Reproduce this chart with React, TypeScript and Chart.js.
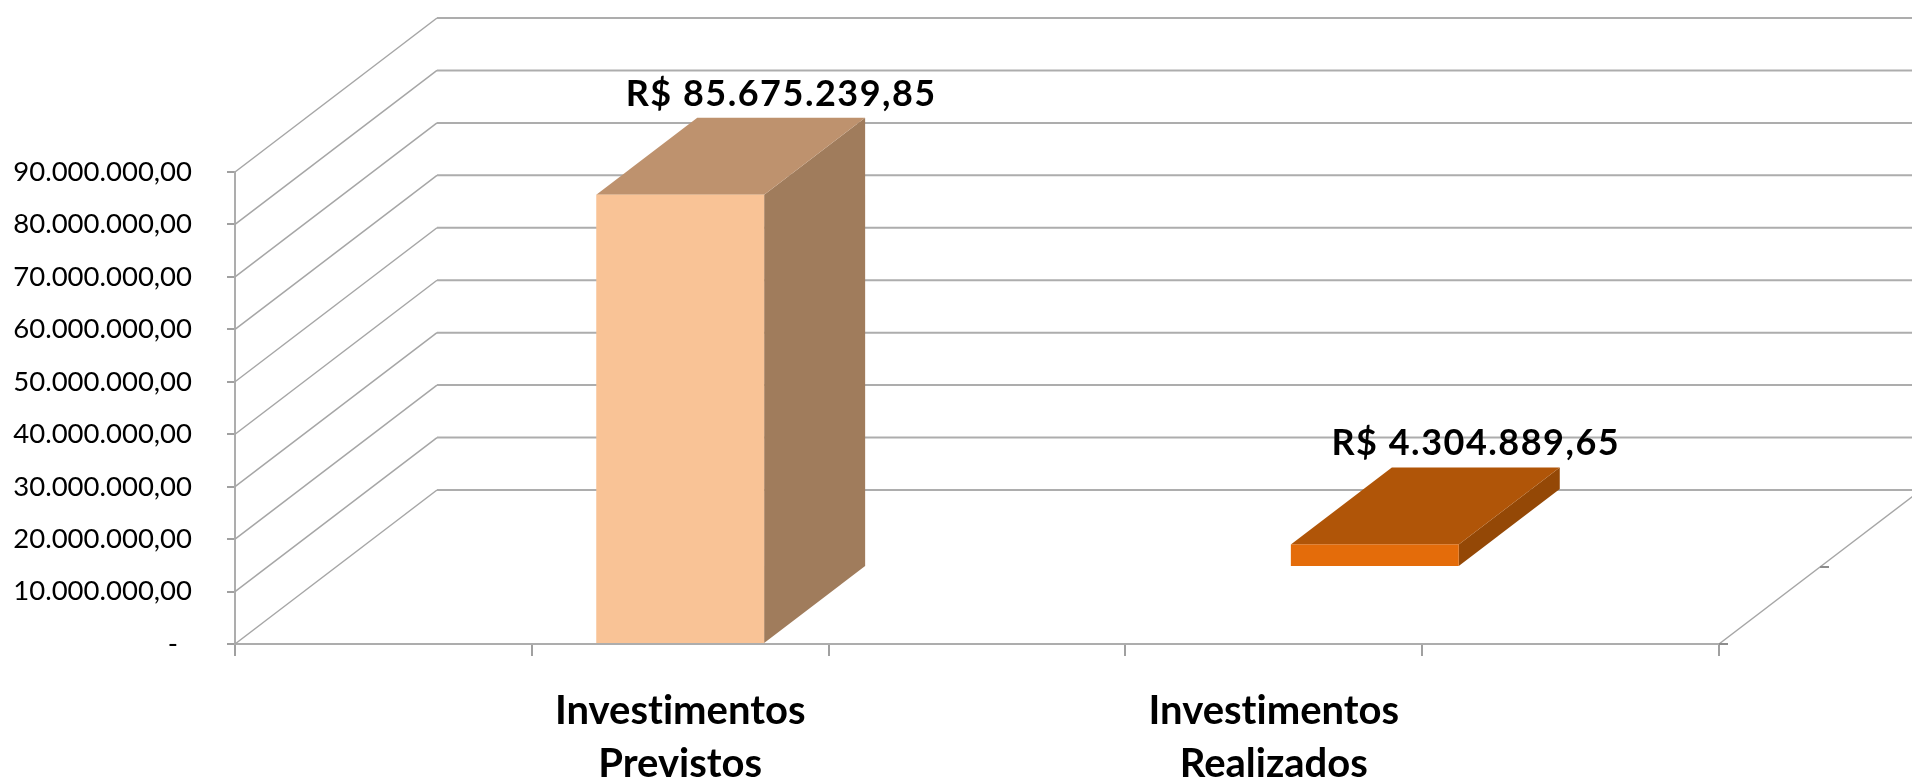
import React, { useEffect, useRef } from 'react';
import { Chart, registerables } from 'chart.js';

Chart.register(...registerables);

// ---- data ----
const categories: (string | string[])[] = ['', ['Investimentos', 'Previstos'], '', ['Investimentos', 'Realizados'], ''];
const previstos: (number | null)[] = [null, 85675239.85, null, null, null];
const realizados: (number | null)[] = [null, null, null, 4304889.65, null];
const yTickValues = [0, 10000000, 20000000, 30000000, 40000000, 50000000, 60000000, 70000000, 80000000, 90000000];
const yTickLabels = ['-  ', '10.000.000,00', '20.000.000,00', '30.000.000,00', '40.000.000,00', '50.000.000,00', '60.000.000,00', '70.000.000,00', '80.000.000,00', '90.000.000,00'];

// ---- style ----
const DEPTH_X = 202;
const DEPTH_Y = -154;
const GRID = '#ADADAD';
const DIAG = '#A6A6A6';
const FONT = 'Lato, "Open Sans", sans-serif';

const seriesColors = [
  { front: '#F9C396', top: '#BE926E', side: '#A07C5C' },
  { front: '#E46C0A', top: '#B05508', side: '#944806' },
];

function brl(v: number): string {
  const [i, d] = v.toFixed(2).split('.');
  return 'R$ ' + i.replace(/\B(?=(\d{3})+(?!\d))/g, '.') + ',' + d;
}

const threeD = {
  id: 'threeD',
  beforeDraw(chart: any) {
    const ctx = chart.ctx;
    try { ctx.textRendering = 'optimizeSpeed'; } catch (e) {}
    try { ctx.fontVariantLigatures = 'none'; } catch (e) {}
  },
  beforeDatasetsDraw(chart: any) {
    const { ctx, chartArea } = chart;
    const { left, right, bottom } = chartArea;
    const ys = chart.scales.y;
    ctx.save();
    ctx.lineCap = 'butt';
    for (const v of yTickValues) {
      const y = ys.getPixelForValue(v);
      // side wall diagonal
      ctx.strokeStyle = DIAG;
      ctx.lineWidth = 1.5;
      ctx.beginPath();
      ctx.moveTo(left, y);
      ctx.lineTo(left + DEPTH_X, y + DEPTH_Y);
      ctx.stroke();
      // back wall gridline
      ctx.strokeStyle = GRID;
      ctx.lineWidth = 2;
      ctx.beginPath();
      ctx.moveTo(left + DEPTH_X, y + DEPTH_Y);
      ctx.lineTo(right + DEPTH_X, y + DEPTH_Y);
      ctx.stroke();
    }
    // floor right edge
    ctx.strokeStyle = DIAG;
    ctx.lineWidth = 1.5;
    ctx.beginPath();
    ctx.moveTo(right, bottom);
    ctx.lineTo(right + DEPTH_X, bottom + DEPTH_Y);
    ctx.stroke();
    // depth axis ticks
    ctx.strokeStyle = '#8C8C8C';
    ctx.lineWidth = 2;
    for (const z of [0, 0.5]) {
      const x0 = right + DEPTH_X * z;
      const y0 = bottom + DEPTH_Y * z;
      ctx.beginPath();
      ctx.moveTo(x0, y0);
      ctx.lineTo(x0 + 9, y0);
      ctx.stroke();
    }
    ctx.restore();
  },
  afterDatasetsDraw(chart: any) {
    const { ctx } = chart;
    const n = chart.data.datasets.length;
    ctx.save();
    for (let i = n - 1; i >= 0; i--) {
      const ds = chart.data.datasets[i];
      const meta = chart.getDatasetMeta(i);
      const col = seriesColors[i];
      const z0 = i / n;
      const z1 = (i + 1) / n;
      const ox0 = DEPTH_X * z0, oy0 = DEPTH_Y * z0;
      const ox1 = DEPTH_X * z1, oy1 = DEPTH_Y * z1;
      meta.data.forEach((el: any, j: number) => {
        const val = ds.data[j];
        if (val == null) return;
        const xl = el.x - el.width / 2;
        const xr = el.x + el.width / 2;
        const yt = el.y;
        const yb = el.base;
        // side face
        ctx.fillStyle = col.side;
        ctx.beginPath();
        ctx.moveTo(xr + ox0, yt + oy0);
        ctx.lineTo(xr + ox1, yt + oy1);
        ctx.lineTo(xr + ox1, yb + oy1);
        ctx.lineTo(xr + ox0, yb + oy0);
        ctx.closePath();
        ctx.fill();
        // top face
        ctx.fillStyle = col.top;
        ctx.beginPath();
        ctx.moveTo(xl + ox0, yt + oy0);
        ctx.lineTo(xr + ox0, yt + oy0);
        ctx.lineTo(xr + ox1, yt + oy1);
        ctx.lineTo(xl + ox1, yt + oy1);
        ctx.closePath();
        ctx.fill();
        // front face
        ctx.fillStyle = col.front;
        ctx.fillRect(xl + ox0, yt + oy0, xr - xl, yb - yt);
        // value label
        ctx.fillStyle = '#000';
        ctx.font = 'bold 36px ' + FONT;
        try { ctx.letterSpacing = '1.5px'; } catch (e) {}
        ctx.textAlign = 'center';
        ctx.textBaseline = 'alphabetic';
        ctx.fillText(brl(val), el.x + ox1, yt + oy1 - 12);
        try { ctx.letterSpacing = '0px'; } catch (e) {}
      });
    }
    ctx.restore();
  },
};

export default function App() {
  const ref = useRef<HTMLCanvasElement | null>(null);
  useEffect(() => {
    let chart: Chart | null = null;
    let dead = false;
    const make = () => {
      if (dead || !ref.current) return;
      chart = new Chart(ref.current, {
        type: 'bar',
        data: {
          labels: categories as any,
          datasets: [
            { label: 'Investimentos Previstos', data: previstos, backgroundColor: 'rgba(0,0,0,0)', borderWidth: 0 },
            { label: 'Investimentos Realizados', data: realizados, backgroundColor: 'rgba(0,0,0,0)', borderWidth: 0 },
          ],
        },
        options: {
          responsive: false,
          animation: false,
          devicePixelRatio: 1,
          layout: { padding: { left: 0, top: 172, right: 193, bottom: 0 } },
          datasets: { bar: { grouped: false, categoryPercentage: 1, barPercentage: 168 / 297 } } as any,
          plugins: { legend: { display: false }, tooltip: { enabled: false }, title: { display: false } },
          scales: {
            x: {
              type: 'category',
              offset: true,
              grid: { display: true, drawOnChartArea: false, drawTicks: true, tickLength: 12, color: '#A0A0A0', lineWidth: 2, offset: true },
              border: { display: true, color: GRID, width: 2 },
              ticks: {
                autoSkip: false,
                maxRotation: 0,
                minRotation: 0,
                color: '#000',
                padding: 29,
                font: { family: FONT, weight: 'bold', size: 40, lineHeight: 53 / 40 },
              },
              afterFit: (s: any) => { s.height = 139; },
            },
            y: {
              min: 0,
              max: 90000000,
              afterBuildTicks: (s: any) => { s.ticks = yTickValues.map((v) => ({ value: v })); },
              ticks: {
                color: '#000',
                padding: 35,
                font: { family: FONT, size: 27.5 },
                callback: (_v: any, i: number) => yTickLabels[i],
              },
              grid: { display: true, drawOnChartArea: false, drawTicks: true, tickLength: 8, color: '#A0A0A0', lineWidth: 2 },
              border: { display: true, color: GRID, width: 2 },
              afterFit: (s: any) => { s.width = 235; },
            },
          },
        },
        plugins: [threeD],
      } as any);
    };
    const fonts = (document as any).fonts;
    if (fonts && fonts.load) {
      Promise.all([fonts.load('bold 40px Lato'), fonts.load('28px Lato')]).then(make, make);
    } else {
      make();
    }
    return () => {
      dead = true;
      if (chart) chart.destroy();
    };
  }, []);
  return (
    <div style={{ position: 'absolute', left: 0, top: 0, width: 1912, height: 783 }}>
      <canvas ref={ref} width={1912} height={783} style={{ display: 'block' }} />
    </div>
  );
}
